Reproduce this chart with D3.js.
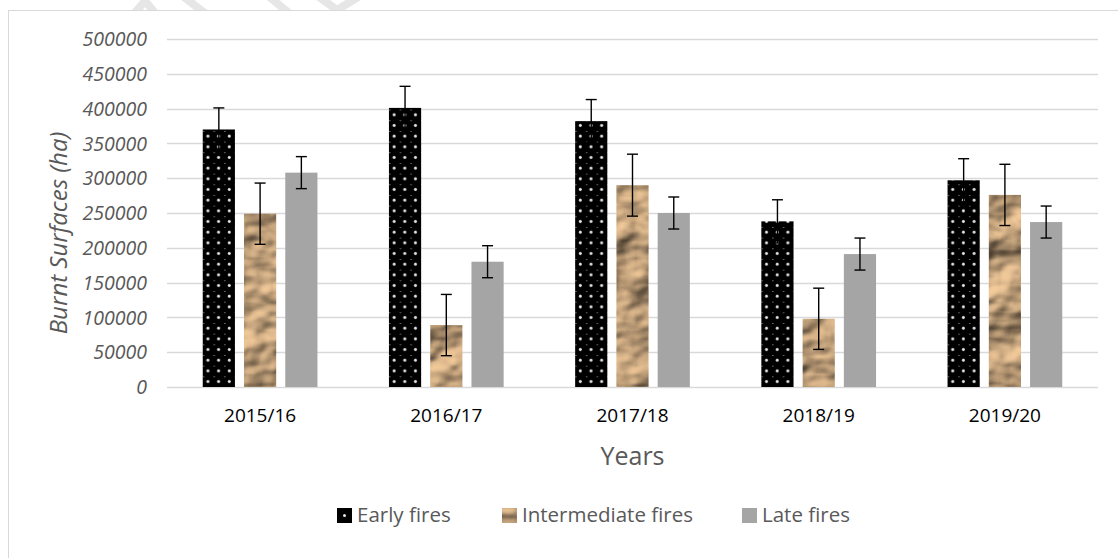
<!DOCTYPE html>
<html>
<head>
<meta charset="utf-8">
<script src="https://cdn.jsdelivr.net/npm/d3@7"></script>
<style>
  html, body { margin: 0; padding: 0; background: #fff; }
  svg { display: block; font-family: "Open Sans", sans-serif; }
</style>
</head>
<body>
<svg id="chart" width="1118" height="558"></svg>
<script>
// ---------- data ----------
const years = ["2015/16", "2016/17", "2017/18", "2018/19", "2019/20"];
const seriesNames = ["Early fires", "Intermediate fires", "Late fires"];
const earlyValues        = [370000, 401000, 382000, 238000, 297000];
const intermediateValues = [249000,  89000, 290000,  98000, 276000];
const lateValues         = [308000, 180000, 250000, 191000, 237000];
const earlyErrors        = [31000, 31000, 31000, 31000, 31000];
const intermediateErrors = [44000, 44000, 44500, 44000, 44000];
const lateErrors         = [23000, 23000, 23000, 23000, 23000];
const yTicks = [0, 50000, 100000, 150000, 200000, 250000, 300000, 350000, 400000, 450000, 500000];
const yTitle = "Burnt Surfaces (ha)";
const xTitle = "Years";

const valuesBySeries = [earlyValues, intermediateValues, lateValues];
const errorsBySeries = [earlyErrors, intermediateErrors, lateErrors];

// ---------- layout ----------
const svg = d3.select("#chart");
const plot = { left: 167, right: 1098, top: 39, bottom: 387 };

const x = d3.scaleBand().domain(years)
  .range([plot.left, plot.right]).paddingInner(0.384).paddingOuter(0.192);
const xs = d3.scaleBand().domain(seriesNames)
  .range([0, x.bandwidth()]).paddingInner(0.22);
const y = d3.scaleLinear().domain([0, 500000]).range([plot.bottom, plot.top]);

const defs = svg.append("defs");

// crumpled paper texture
const f = defs.append("filter").attr("id", "paper")
  .attr("x", 0).attr("y", 0).attr("width", "100%").attr("height", "100%")
  .attr("color-interpolation-filters", "sRGB");
f.append("feTurbulence").attr("type", "fractalNoise").attr("baseFrequency", "0.022 0.028")
  .attr("numOctaves", 3).attr("seed", 11).attr("result", "noise");
const lt = f.append("feDiffuseLighting").attr("in", "noise").attr("lighting-color", "#e9cca8")
  .attr("surfaceScale", 8).attr("diffuseConstant", 1.05).attr("result", "light");
lt.append("feDistantLight").attr("azimuth", 235).attr("elevation", 50);
f.append("feColorMatrix").attr("in", "light").attr("type", "matrix")
  .attr("values", "1.0 0 0 0 0  0 0.95 0 0 0  0 0 0.88 0 0  0 0 0 1 0").attr("result", "tone");
f.append("feComposite").attr("in", "tone").attr("in2", "SourceGraphic").attr("operator", "in");

// dot patterns, one per category so dots align with bar edges
function dotPattern(id, x0, y0) {
  const p = defs.append("pattern").attr("id", id)
    .attr("patternUnits", "userSpaceOnUse")
    .attr("x", x0).attr("y", y0).attr("width", 10.67).attr("height", 10.67);
  p.append("rect").attr("width", 10.67).attr("height", 10.67).attr("fill", "#000");
  p.append("circle").attr("cx", 5.2).attr("cy", 5.2).attr("r", 1.5).attr("fill", "#e6e6e6");
  p.append("rect").attr("x", 0).attr("y", 0).attr("width", 1.6).attr("height", 0.9).attr("fill", "#777");
}
years.forEach((yr, i) => dotPattern("dots" + i, x(yr) + xs(seriesNames[0]), plot.bottom));

// ---------- chart frame ----------
svg.append("rect").attr("x", 8.5).attr("y", 10.5).attr("width", 1130).attr("height", 560)
  .attr("fill", "none").attr("stroke", "#d9d9d9").attr("stroke-width", 1);

// faint watermark fragments at the top
defs.append("clipPath").attr("id", "wmclip").append("rect")
  .attr("x", 0).attr("y", 0).attr("width", 1118).attr("height", 10);
const wm = svg.append("g").attr("clip-path", "url(#wmclip)")
  .attr("stroke", "#e6e6e6").attr("stroke-width", 8).attr("fill", "none");
wm.append("path").attr("d", "M134,14 L145,1 L156,14");
wm.append("path").attr("d", "M180,-6 L206,14");
wm.append("path").attr("d", "M266,-6 L290,14");
wm.append("path").attr("d", "M315,-6 L337,10 L363,-6");

// ---------- grid ----------
svg.append("g").selectAll("line").data(yTicks).join("line")
  .attr("x1", plot.left).attr("x2", plot.right)
  .attr("y1", d => Math.round(y(d)) + 0.5).attr("y2", d => Math.round(y(d)) + 0.5)
  .attr("stroke", "#d9d9d9").attr("stroke-width", 1.3);

// y axis labels
const yAxis = d3.axisLeft(y).tickValues(yTicks).tickSize(0).tickPadding(0).tickFormat(d3.format("d"));
const yg = svg.append("g").attr("transform", `translate(147,0)`).call(yAxis);
yg.select(".domain").remove();
yg.selectAll("text").attr("font-family", "Open Sans").attr("font-style", "italic")
  .attr("font-size", 19.5).attr("fill", "#595959").attr("dy", "0.34em");

// x axis labels
const xAxis = d3.axisBottom(x).tickSize(0).tickPadding(0);
const xg = svg.append("g").attr("transform", `translate(0,${plot.bottom})`).call(xAxis);
xg.select(".domain").remove();
xg.selectAll("text").attr("font-family", "Open Sans").attr("font-size", 19)
  .attr("fill", "#000").attr("dy", null).attr("y", 35);

// titles
svg.append("text").attr("transform", `translate(67,${(plot.top + plot.bottom) / 2 + 20}) rotate(-90)`)
  .attr("text-anchor", "middle").attr("font-style", "italic").attr("font-size", 24)
  .attr("fill", "#595959").text(yTitle);
svg.append("text").attr("x", (plot.left + plot.right) / 2).attr("y", 465)
  .attr("text-anchor", "middle").attr("font-size", 25).attr("fill", "#595959").text(xTitle);

// ---------- bars ----------
const fills = [i => `url(#dots${i})`, () => "#c9a57c", () => "#a5a5a5"];
const barsG = svg.append("g");
seriesNames.forEach((s, si) => {
  const g = barsG.append("g");
  g.selectAll("rect").data(years).join("rect")
    .attr("x", d => x(d) + xs(s))
    .attr("y", (d, i) => y(valuesBySeries[si][i]))
    .attr("width", xs.bandwidth())
    .attr("height", (d, i) => y(0) - y(valuesBySeries[si][i]))
    .attr("fill", (d, i) => fills[si](i))
    .attr("filter", si === 1 ? "url(#paper)" : null);
});

// ---------- error bars ----------
const errG = svg.append("g").attr("stroke", "#000").attr("stroke-width", 1.4);
seriesNames.forEach((s, si) => {
  years.forEach((yr, i) => {
    const cx = x(yr) + xs(s) + xs.bandwidth() / 2;
    const v = valuesBySeries[si][i], e = errorsBySeries[si][i];
    const top = y(v + e), bot = y(v - e);
    errG.append("line").attr("x1", cx).attr("x2", cx).attr("y1", top).attr("y2", bot);
    errG.append("line").attr("x1", cx - 5.5).attr("x2", cx + 5.5).attr("y1", top).attr("y2", top);
    errG.append("line").attr("x1", cx - 5.5).attr("x2", cx + 5.5).attr("y1", bot).attr("y2", bot);
  });
});

// ---------- legend ----------
const legendX = [337, 502, 742];
const legY = 508;
const leg = svg.append("g");
defs.append("pattern").attr("id", "legdots").attr("patternUnits", "userSpaceOnUse")
  .attr("x", legendX[0]).attr("y", legY).attr("width", 15).attr("height", 15)
  .call(p => {
    p.append("rect").attr("width", 15).attr("height", 15).attr("fill", "#000");
    p.append("circle").attr("cx", 7.5).attr("cy", 7.5).attr("r", 1.5).attr("fill", "#e6e6e6");
  });
const legFills = ["url(#legdots)", "#e2c39b", "#a5a5a5"];
seriesNames.forEach((s, si) => {
  leg.append("rect").attr("x", legendX[si]).attr("y", legY).attr("width", 15).attr("height", 15)
    .attr("fill", legFills[si]).attr("filter", si === 1 ? "url(#paper)" : null);
  leg.append("text").attr("x", legendX[si] + 20).attr("y", legY + 14)
    .attr("font-size", 20.5).attr("fill", "#595959").text(s);
});
</script>
</body>
</html>
